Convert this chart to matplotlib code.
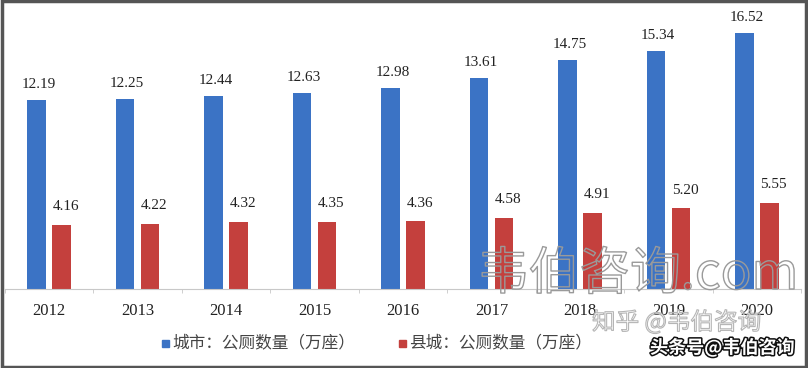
import matplotlib
matplotlib.use('Agg')
import matplotlib.pyplot as plt
import matplotlib.patheffects as pe
from matplotlib.patches import Rectangle
import numpy as np

years = ['2012', '2013', '2014', '2015', '2016', '2017', '2018', '2019', '2020']
city = [12.19, 12.25, 12.44, 12.63, 12.98, 13.61, 14.75, 15.34, 16.52]
county = [4.16, 4.22, 4.32, 4.35, 4.36, 4.58, 4.91, 5.20, 5.55]
city_label = '城市：公厕数量（万座）'
county_label = '县城：公厕数量（万座）'

blue = '#3b73c5'
red = '#c4403d'
serif = ['Liberation Serif', 'DejaVu Serif']
cjk = ['Noto Sans CJK SC', 'DejaVu Sans']

fig = plt.figure(figsize=(8.08, 3.68), dpi=100)
ax = fig.add_axes([0.0059, 0.2147, 0.9857, 0.758])
x = np.arange(len(years))
w = 0.21
ax.bar(x - 0.14, city, w, color=blue)
ax.bar(x + 0.14, county, w, color=red)

for i in range(len(years)):
    ax.text(x[i] - 0.12, city[i] + 0.6, f'{city[i]:.2f}', ha='center', va='bottom',
            fontsize=11, family=serif, color='#222222')
    ax.text(x[i] + 0.19, county[i] + 0.75, f'{county[i]:.2f}', ha='center', va='bottom',
            fontsize=11, family=serif, color='#222222')

ax.set_xlim(-0.5, len(years) - 0.5)
ax.set_ylim(0, 18)
for s in ['top', 'left', 'right']:
    ax.spines[s].set_visible(False)
ax.spines['bottom'].set_color('#c8c8c8')
ax.set_yticks([])
ax.set_xticks(x)
ax.set_xticklabels(years, family=serif, fontsize=12, color='#222222')
ax.tick_params(axis='x', length=0, pad=10)
ax.set_xticks(np.arange(len(years) + 1) - 0.5, minor=True)
ax.tick_params(axis='x', which='minor', length=3, color='#c8c8c8')

# legend drawn as figure text
fig.patches.append(Rectangle((162 / 808, 1 - 347 / 368), 7 / 808, 7 / 368,
                             transform=fig.transFigure, color=blue))
fig.text(172 / 808, 1 - 343 / 368, city_label, family=cjk, fontsize=12,
         va='center', ha='left', color='#444444')
fig.patches.append(Rectangle((399 / 808, 1 - 347 / 368), 7 / 808, 7 / 368,
                             transform=fig.transFigure, color=red))
fig.text(409 / 808, 1 - 343 / 368, county_label, family=cjk, fontsize=12,
         va='center', ha='left', color='#444444')

# watermarks
fig.text(478 / 808, 1 - 275 / 368, '韦伯咨询.com', family=cjk, fontsize=36.5,
         va='center', ha='left', color='none',
         path_effects=[pe.withStroke(linewidth=1, foreground='#9a9a9a')])
fig.text(592 / 808, 1 - 322 / 368, '知乎 @韦伯咨询', family=cjk, fontsize=17,
         va='center', ha='left', color='none',
         path_effects=[pe.withStroke(linewidth=0.8, foreground='#b5b5b5')])
fig.text(650 / 808, 1 - 348 / 368, '头条号@韦伯咨询', family=cjk, fontsize=13,
         va='center', ha='left', color='white', weight='bold',
         path_effects=[pe.withStroke(linewidth=2.2, foreground='#111111')])

# frame around the picture
fig.patches.append(Rectangle((0.002, 0.003), 0.996, 0.994, transform=fig.transFigure,
                             fill=False, edgecolor='#555555', linewidth=2.5))

fig.savefig('out.png', dpi=100, facecolor='white')
